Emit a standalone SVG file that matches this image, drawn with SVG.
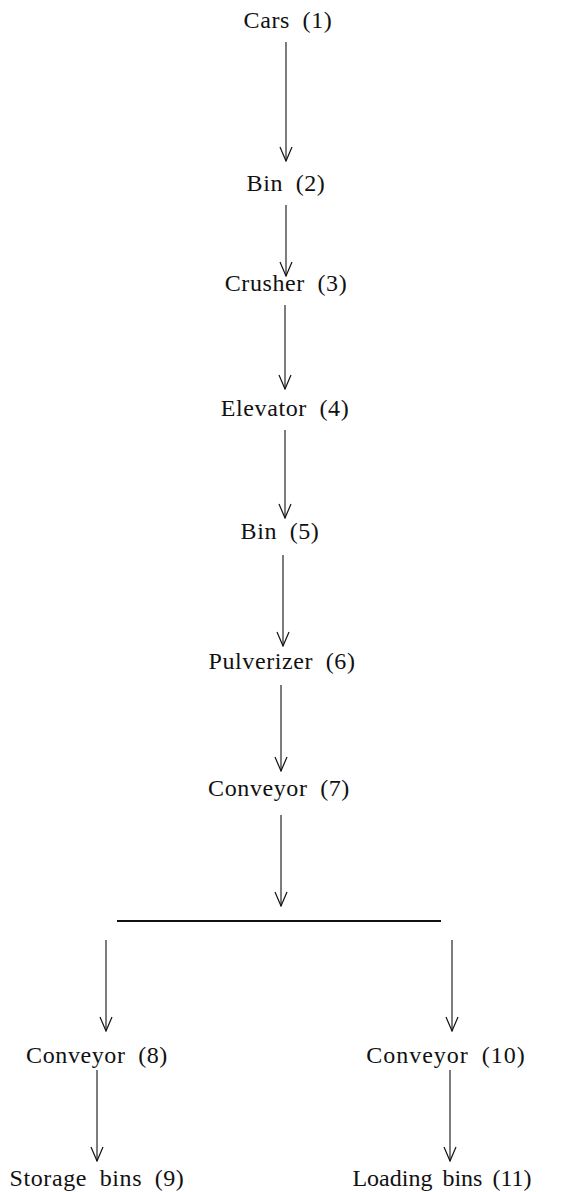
<svg xmlns="http://www.w3.org/2000/svg" width="574" height="1192" viewBox="0 0 574 1192">
<defs>
<marker id="ah" markerUnits="userSpaceOnUse" markerWidth="16" markerHeight="16" viewBox="-15 -8 16 16" refX="0" refY="0" orient="auto">
<path d="M-14,-6 L0,0 L-14,6" fill="none" stroke="#111" stroke-width="1.2"/>
</marker>
</defs>
<style>
.t{font-family:"Liberation Serif","DejaVu Serif",serif;font-size:24px;fill:#111;text-anchor:middle;letter-spacing:0.6px;word-spacing:6px}
.c{stroke:#111;stroke-width:1.1;fill:none}
.bar{stroke:#111;stroke-width:1.8}
</style>
<rect width="574" height="1192" fill="#fff"/>
<g id="connectors">
<line class="c" x1="286" y1="42" x2="286" y2="161" marker-end="url(#ah)"/>
<line class="c" x1="286" y1="205" x2="286" y2="276" marker-end="url(#ah)"/>
<line class="c" x1="285" y1="305" x2="285" y2="389" marker-end="url(#ah)"/>
<line class="c" x1="285" y1="430" x2="285" y2="518" marker-end="url(#ah)"/>
<line class="c" x1="283" y1="555" x2="283" y2="646" marker-end="url(#ah)"/>
<line class="c" x1="281" y1="685" x2="281" y2="771" marker-end="url(#ah)"/>
<line class="c" x1="281" y1="815" x2="281" y2="906" marker-end="url(#ah)"/>
<line class="bar" x1="117" y1="921" x2="441" y2="921"/>
<line class="c" x1="106" y1="940" x2="106" y2="1031" marker-end="url(#ah)"/>
<line class="c" x1="452" y1="940" x2="452" y2="1031" marker-end="url(#ah)"/>
<line class="c" x1="97" y1="1070" x2="97" y2="1161" marker-end="url(#ah)"/>
<line class="c" x1="450" y1="1070" x2="450" y2="1161" marker-end="url(#ah)"/>
</g>
<g id="n1"><text class="t" x="288" y="28">Cars (1)</text></g>
<g id="n2"><text class="t" x="286" y="191">Bin (2)</text></g>
<g id="n3"><text class="t" x="286" y="291">Crusher (3)</text></g>
<g id="n4"><text class="t" x="285" y="416">Elevator (4)</text></g>
<g id="n5"><text class="t" x="280" y="539">Bin (5)</text></g>
<g id="n6"><text class="t" x="282" y="669">Pulverizer (6)</text></g>
<g id="n7"><text class="t" x="279" y="796">Conveyor (7)</text></g>
<g id="n8"><text class="t" x="97" y="1063">Conveyor (8)</text></g>
<g id="n10"><text class="t" x="446" y="1063" style="letter-spacing:1px">Conveyor (10)</text></g>
<g id="n9"><text class="t" x="97" y="1186">Storage bins (9)</text></g>
<g id="n11"><text class="t" x="442" y="1186" style="letter-spacing:0;word-spacing:4px">Loading bins (11)</text></g>
</svg>
